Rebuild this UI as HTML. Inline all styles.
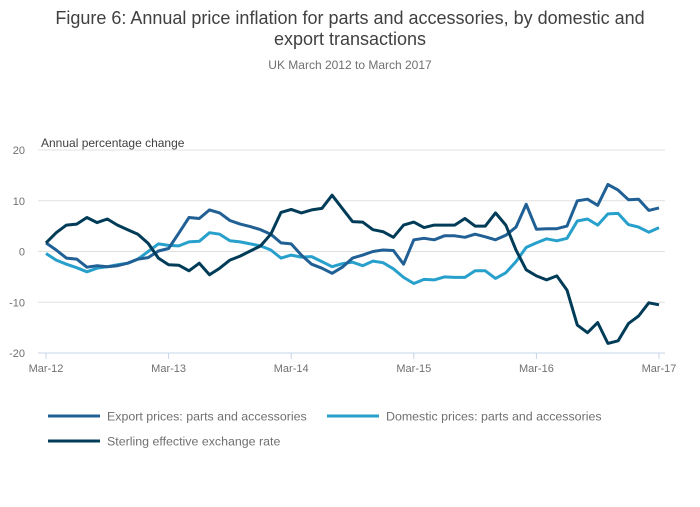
<!DOCTYPE html>
<html><head><meta charset="utf-8">
<style>
body{margin:0;background:#fff;width:700px;height:502px;overflow:hidden;font-family:"Liberation Sans",sans-serif;}
</style></head>
<body>
<svg width="700" height="502" font-family="Liberation Sans, sans-serif">
<text x="350" y="24" text-anchor="middle" font-size="18" fill="#414042">Figure 6: Annual price inflation for parts and accessories, by domestic and</text>
<text x="350" y="45" text-anchor="middle" font-size="18" fill="#414042">export transactions</text>
<text x="350" y="69" text-anchor="middle" font-size="12" fill="#707071">UK March 2012 to March 2017</text>
<text x="41" y="147" font-size="12" fill="#414042">Annual percentage change</text>
<g id="grid"></g>
<g id="xaxis"></g>
<g id="series"></g>
<g id="legend"></g>
</svg>
<script>
const xLabels=["Mar-12","Mar-13","Mar-14","Mar-15","Mar-16","Mar-17"];
const yTicks=[20,10,0,-10,-20];
const exportPrices=[1.7,0.3,-1.3,-1.5,-3.1,-2.8,-3.0,-2.8,-2.3,-1.5,-1.2,0.1,0.6,3.6,6.7,6.5,8.2,7.6,6.1,5.4,4.9,4.3,3.4,1.7,1.5,-0.7,-2.5,-3.3,-4.3,-3.1,-1.3,-0.7,0,0.3,0.2,-2.5,2.3,2.6,2.3,3.1,3.1,2.8,3.4,2.9,2.3,3.2,4.8,9.3,4.4,4.5,4.5,5.0,10.0,10.3,9.1,13.2,12.1,10.2,10.3,8.1,8.6];
const domesticPrices=[-0.4,-1.7,-2.5,-3.2,-4.0,-3.3,-3.0,-2.6,-2.3,-1.5,0,1.5,1.2,1.1,1.9,2.0,3.7,3.4,2.1,1.9,1.5,1.1,0.3,-1.3,-0.7,-1.1,-1.0,-2.0,-3.0,-2.4,-2.1,-2.8,-1.9,-2.2,-3.4,-5.1,-6.3,-5.5,-5.6,-5.0,-5.1,-5.1,-3.8,-3.8,-5.3,-4.2,-2.0,0.8,1.7,2.5,2.1,2.6,6.0,6.4,5.2,7.4,7.5,5.3,4.8,3.8,4.7];
const sterling=[1.7,3.7,5.2,5.4,6.7,5.7,6.4,5.2,4.3,3.4,1.6,-1.3,-2.6,-2.7,-3.8,-2.3,-4.6,-3.3,-1.7,-0.9,0.1,1.1,3.4,7.7,8.3,7.6,8.2,8.5,11.1,8.5,5.9,5.8,4.3,3.9,2.8,5.2,5.8,4.7,5.2,5.2,5.2,6.5,5.0,5.0,7.6,5.2,0.3,-3.6,-4.8,-5.6,-4.8,-7.6,-14.5,-16.0,-14.0,-18.1,-17.6,-14.2,-12.7,-10.1,-10.5];
const seriesNames=["Export prices: parts and accessories","Domestic prices: parts and accessories","Sterling effective exchange rate"];

const NS="http://www.w3.org/2000/svg";
const x0=46,x1=659,yTop=150,yBot=353;
const xs=i=>x0+(x1-x0)*i/60;
const ys=v=>yBot-(v+20)/40*(yBot-yTop);
function mk(tag,attrs,parent){const e=document.createElementNS(NS,tag);for(const k in attrs)e.setAttribute(k,attrs[k]);parent.appendChild(e);return e;}
const grid=document.getElementById('grid');
yTicks.forEach(t=>{
  if(t!==-20){const l=mk('line',{x1:38,x2:665,y1:ys(t),y2:ys(t),stroke:'#e0e0e0','stroke-width':1},grid);
  
  }
  const tx=mk('text',{x:25,y:ys(t)+4,'text-anchor':'end','font-size':11,fill:'#707071'},grid);
  tx.textContent=t;
  
  
});
const xa=document.getElementById('xaxis');
const ax=mk('line',{x1:38,x2:665,y1:yBot,y2:yBot,stroke:'#c6d4ea','stroke-width':1},xa);


xLabels.forEach((lab,i)=>{
  const x=xs(i*12);
  const tk=mk('line',{x1:x,x2:x,y1:yBot,y2:yBot+6,stroke:'#c6d4ea'},xa);
  
  
  const t=mk('text',{x:x,y:yBot+19,'text-anchor':'middle','font-size':11,fill:'#707071'},xa);
  t.textContent=lab;
  
  
});
const colors=["#206095","#27a0cc","#003c57"];
const data=[exportPrices,domesticPrices,sterling];
const sg=document.getElementById('series');
const order=[1,0,2];
order.forEach(k=>{
  const p=mk('polyline',{points:data[k].map((v,i)=>xs(i).toFixed(1)+','+ys(v).toFixed(1)).join(' '),fill:'none',stroke:colors[k],'stroke-width':3,'stroke-linejoin':'round'},sg);
  
  
});
const lg=document.getElementById('legend');
const pos=[[48,416],[327,416],[48,441]];
seriesNames.forEach((n,k)=>{
  const [lx,ly]=pos[k];
  const l=mk('line',{x1:lx,x2:lx+52,y1:ly,y2:ly,stroke:colors[k],'stroke-width':3},lg);
  
  
  const t=mk('text',{x:lx+59,y:ly+4.5,'font-size':12.4,fill:'#707071'},lg);
  t.textContent=n;
  
  
});
</script>
</body></html>
